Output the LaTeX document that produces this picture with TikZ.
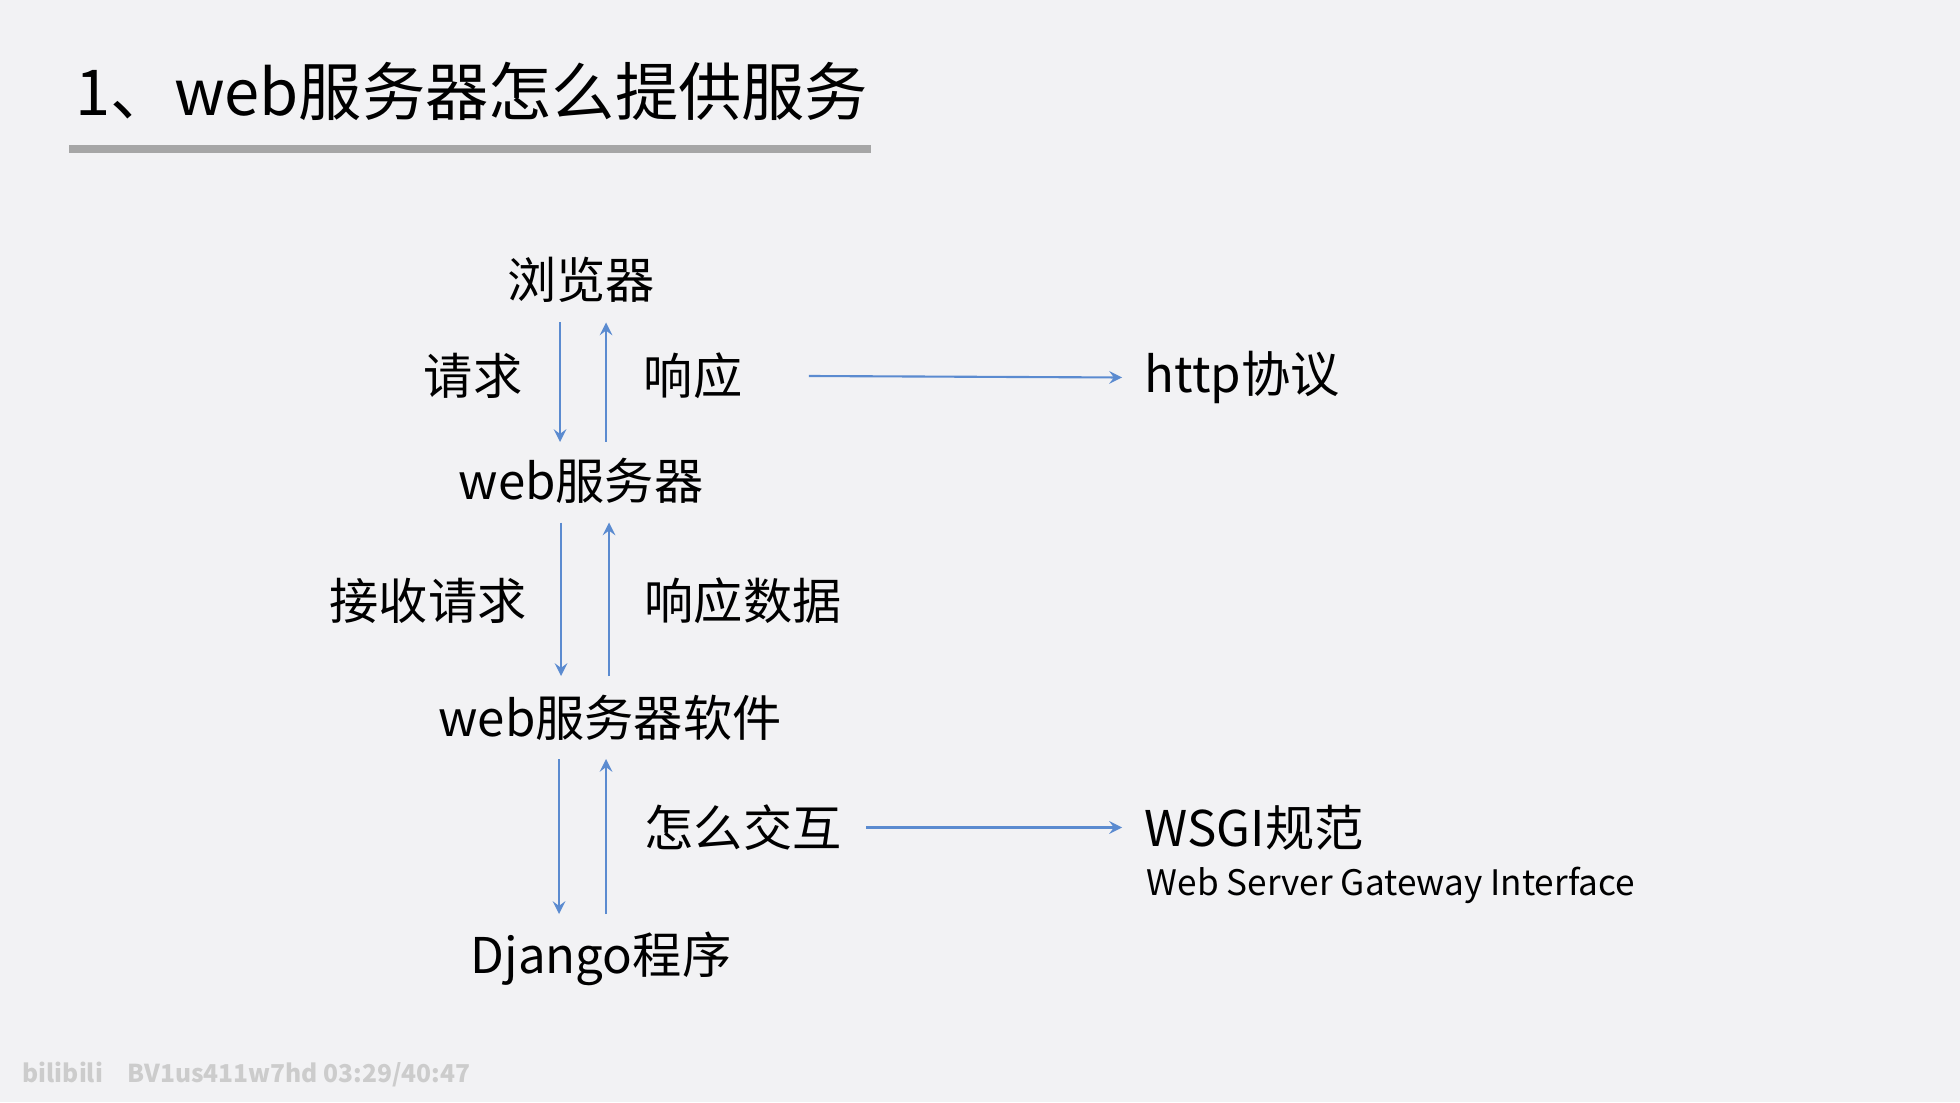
\documentclass[tikz,border=0pt]{standalone}
\usepackage{fontspec}
\setmainfont{Noto Sans CJK SC}
\usetikzlibrary{positioning}
\definecolor{bgcol}{HTML}{F2F2F4}
\definecolor{arrcol}{HTML}{5B8BD0}
\definecolor{rulecol}{HTML}{A6A6A6}
\tikzset{
  lbl/.style={font=\fontsize{14pt}{16pt}\selectfont, inner sep=0pt},
  flow/.style={->, arrcol, line width=0.6pt, >=stealth},
}
\begin{document}
\begin{tikzpicture}
    \fill[bgcol] (0,0) rectangle (19.6,11.02);
    \useasboundingbox (0,0) rectangle (19.6,11.02);

    % Title
    \node[anchor=west, inner sep=0pt, font=\fontsize{18pt}{20pt}\selectfont] (title) at (0.75,10.11) {1、web服务器怎么提供服务};
    \draw[rulecol, line width=2.5pt] (0.69,9.53) -- (8.71,9.53);

    % Layers
    \node[lbl] (browser) at (5.81,8.22) {浏览器};
    \node[lbl] (server) at (5.81,6.21) {web服务器};
    \node[lbl] (software) at (6.10,3.845) {web服务器软件};
    \node[lbl] (django) at (6.01,1.43) {Django程序};

    % Labels
    \node[lbl] (req) at (4.73,7.26) {请求};
    \node[lbl] (resp) at (6.93,7.26) {响应};
    \node[lbl] (recv) at (4.28,5.01) {接收请求};
    \node[lbl] (respdata) at (7.43,5.01) {响应数据};
    \node[lbl] (interact) at (7.43,2.745) {怎么交互};
    \node[lbl, anchor=west] (http) at (11.44,7.245) {http协议};
    \node[lbl, anchor=west] (wsgi) at (11.44,2.745) {WSGI规范};
    \node[anchor=west, inner sep=0pt, font=\fontsize{10pt}{12pt}\selectfont] (wsgifull) at (11.46,2.17) {Web Server Gateway Interface};

    % Arrow ends
    \coordinate (a1) at (5.60,7.795); \coordinate (a2) at (5.60,6.60);
    \coordinate (b1) at (6.06,6.60);  \coordinate (b2) at (6.06,7.795);
    \coordinate (c1) at (5.61,5.795); \coordinate (c2) at (5.61,4.26);
    \coordinate (d1) at (6.09,4.26);  \coordinate (d2) at (6.09,5.795);
    \coordinate (e1) at (5.59,3.43);  \coordinate (e2) at (5.59,1.88);
    \coordinate (f1) at (6.06,1.88);  \coordinate (f2) at (6.06,3.43);

    \draw[flow] (a1) -- (a2);
    \draw[flow] (b1) -- (b2);
    \draw[flow] (c1) -- (c2);
    \draw[flow] (d1) -- (d2);
    \draw[flow] (e1) -- (e2);
    \draw[flow] (f1) -- (f2);
    \draw[flow] ([xshift=0.66cm]resp.east) -- ([xshift=-0.22cm]http.west);
    \draw[flow] ([xshift=0.24cm]interact.east) -- ([xshift=-0.22cm]wsgi.west);

    % Watermark
    \node[anchor=west, inner sep=0pt, text=black!20, font=\bfseries\fontsize{7pt}{8pt}\selectfont] (mark) at (0.22,0.27) {bilibili\quad BV1us411w7hd 03:29/40:47};
\end{tikzpicture}
\end{document}
